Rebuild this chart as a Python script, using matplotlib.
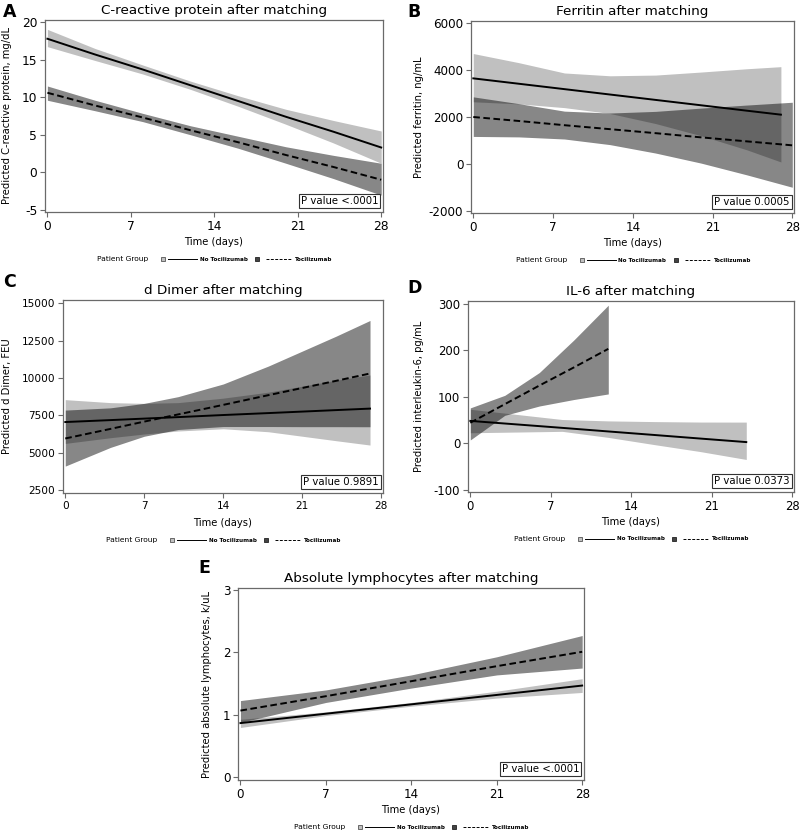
import numpy as np
import matplotlib.pyplot as plt

plt.rcParams['axes.unicode_minus'] = False

# A: C-reactive protein
crp_x = [0, 4, 8, 12, 16, 20, 24, 28]
crp_no = [17.8, 15.7, 13.7, 11.6, 9.5, 7.4, 5.4, 3.3]
crp_no_lo = [16.75, 14.9, 13.1, 11.05, 8.8, 6.4, 3.9, 1.2]
crp_no_hi = [19.05, 16.5, 14.3, 12.15, 10.2, 8.4, 6.9, 5.5]
crp_toc = [10.6, 8.9, 7.3, 5.6, 4.0, 2.3, 0.7, -1.0]
crp_toc_lo = [9.6, 8.2, 6.75, 5.0, 3.2, 1.2, -0.85, -3.05]
crp_toc_hi = [11.5, 9.6, 7.85, 6.2, 4.8, 3.4, 2.25, 1.2]

# B: ferritin
fer_x_no = [0, 4, 8, 12, 16, 20, 24, 27]
fer_no = [3650, 3420, 3190, 2960, 2730, 2500, 2270, 2100]
fer_no_lo = [2650, 2560, 2400, 2150, 1720, 1200, 600, 80]
fer_no_hi = [4710, 4320, 3880, 3760, 3790, 3920, 4060, 4150]
fer_x_toc = [0, 4, 8, 12, 16, 20, 24, 28]
fer_toc = [2000, 1830, 1650, 1480, 1310, 1130, 960, 790]
fer_toc_lo = [1170, 1150, 1060, 820, 460, 30, -470, -1000]
fer_toc_hi = [2860, 2570, 2250, 2170, 2240, 2380, 2510, 2630]

# C: d Dimer
dd_x = [0, 4, 7, 10, 14, 18, 21, 24, 27]
dd_no = [7050, 7180, 7280, 7380, 7520, 7650, 7750, 7850, 7950]
dd_no_lo = [5620, 6000, 6250, 6450, 6600, 6400, 6100, 5800, 5510]
dd_no_hi = [8550, 8350, 8300, 8350, 8650, 9050, 9450, 9850, 10200]
dd_toc = [5950, 6590, 7080, 7560, 8200, 8850, 9330, 9810, 10300]
dd_toc_lo = [4100, 5350, 6100, 6550, 6750, 6750, 6740, 6740, 6735]
dd_toc_hi = [7850, 8000, 8300, 8750, 9600, 10800, 11800, 12800, 13850]

# D: IL-6
il_x_no = [0, 4, 8, 12, 16, 20, 24]
il_no = [48, 40.5, 33, 25.3, 17.7, 10, 2.4]
il_no_lo = [22.5, 24, 25.5, 12.5, -3, -18, -35]
il_no_hi = [73, 62, 51, 48, 46.5, 45.5, 45.4]
il_x_toc = [0, 3, 6, 9, 12]
il_toc = [44, 84, 124, 163, 203]
il_toc_lo = [7, 60, 80, 94, 106]
il_toc_hi = [76, 103, 152, 222, 297]

# E: absolute lymphocytes
ly_x = [0, 7, 14, 21, 28]
ly_no = [0.87, 1.02, 1.17, 1.32, 1.47]
ly_no_lo = [0.80, 0.99, 1.14, 1.27, 1.36]
ly_no_hi = [0.93, 1.05, 1.20, 1.38, 1.58]
ly_toc = [1.07, 1.30, 1.54, 1.78, 2.01]
ly_toc_lo = [0.88, 1.20, 1.43, 1.64, 1.75]
ly_toc_hi = [1.23, 1.40, 1.64, 1.93, 2.27]

day_ticks = [0, 7, 14, 21, 28]

LIGHT = '#c0c0c0'
FRAME = '#6a6a6a'
DASH = (0, (3.4, 1.8))

W, H = 800, 833
fig = plt.figure(figsize=(8, 8.33), dpi=100)


def px_axes(left, top, right, bottom):
    return fig.add_axes([left / W, 1 - bottom / H, (right - left) / W, (bottom - top) / H])


def legend_row(ax, width_px):
    # SAS style group legend drawn under the axis, centred on it
    y = -0.245
    f = lambda dx: 0.5 + dx / width_px
    kw = dict(transform=ax.transAxes, clip_on=False)
    ax.text(f(-117), y, 'Patient Group', ha='left', va='center', fontsize=5.4, **kw)
    ax.plot([f(-51)], [y], marker='s', ms=3.2, mfc=LIGHT, mec='#555555', mew=0.6, **kw)
    ax.plot([f(-46), f(-17)], [y, y], color='black', lw=0.7, **kw)
    ax.text(f(-14), y, 'No Tocilizumab', ha='left', va='center', fontsize=4.1,
            fontweight='bold', **kw)
    ax.plot([f(43)], [y], marker='s', ms=3.2, mfc='#444444', mec='#222222', mew=0.6, **kw)
    ax.plot([f(52), f(77)], [y, y], color='black', lw=0.7, ls=(0, (3, 1.5)), **kw)
    ax.text(f(81), y, 'Tocilizumab', ha='left', va='center', fontsize=4.1,
            fontweight='bold', **kw)


def draw_panel(ax, x_no, no, no_lo, no_hi, x_toc, toc, toc_lo, toc_hi,
               title, ylabel, yticks, ylim, pval, ylab_x, tick_size, width_px):
    ax.fill_between(x_no, no_lo, no_hi, color=LIGHT, lw=0)
    ax.fill_between(x_toc, toc_lo, toc_hi, color='black', alpha=0.47, lw=0)
    ax.plot(x_no, no, color='black', lw=1.4)
    ax.plot(x_toc, toc, color='black', lw=1.4, ls=DASH)

    ax.set_xlim(-0.2, 28.15)
    ax.set_ylim(*ylim)
    ax.set_xticks(day_ticks)
    ax.set_yticks(yticks)
    ax.tick_params(direction='out', length=3.5, width=0.8, color=FRAME,
                   labelsize=tick_size, pad=2)
    for s in ax.spines.values():
        s.set_color(FRAME)
        s.set_linewidth(0.9)

    ax.set_title(title, fontsize=9.7, pad=4)
    ax.set_ylabel(ylabel, fontsize=7.2)
    ax.yaxis.set_label_coords(ylab_x, 0.5)
    ax.set_xlabel('Time (days)', fontsize=7.2)
    ax.xaxis.set_label_coords(0.5, -0.13)

    ax.text(0.987, 0.03, 'P value ' + pval, transform=ax.transAxes,
            ha='right', va='bottom', fontsize=7.3,
            bbox=dict(boxstyle='square,pad=0.18', fc='white', ec='#333333', lw=0.8))

    legend_row(ax, width_px)


axA = px_axes(45, 20, 383, 212)
draw_panel(axA, crp_x, crp_no, crp_no_lo, crp_no_hi, crp_x, crp_toc, crp_toc_lo, crp_toc_hi,
           'C-reactive protein after matching', 'Predicted C-reactive protein, mg/dL',
           [-5, 0, 5, 10, 15, 20], (-5.3, 20.3), '<.0001', -0.098, 8.8, 338)

axB = px_axes(471, 21, 794, 213)
draw_panel(axB, fer_x_no, fer_no, fer_no_lo, fer_no_hi, fer_x_toc, fer_toc, fer_toc_lo, fer_toc_hi,
           'Ferritin after matching', 'Predicted ferritin, ng/mL',
           [-2000, 0, 2000, 4000, 6000], (-2100, 6100), '0.0005', -0.146, 8.6, 323)

axC = px_axes(63, 300, 383, 493)
draw_panel(axC, dd_x, dd_no, dd_no_lo, dd_no_hi, dd_x, dd_toc, dd_toc_lo, dd_toc_hi,
           'd Dimer after matching', 'Predicted d Dimer, FEU',
           [2500, 5000, 7500, 10000, 12500, 15000], (2300, 15220), '0.9891', -0.159, 7.6, 320)

axD = px_axes(468, 301, 794, 492)
draw_panel(axD, il_x_no, il_no, il_no_lo, il_no_hi, il_x_toc, il_toc, il_toc_lo, il_toc_hi,
           'IL-6 after matching', 'Predicted interleukin-6, pg/mL',
           [-100, 0, 100, 200, 300], (-105, 306), '0.0373', -0.135, 8.4, 326)

axE = px_axes(238, 588, 584, 780)
draw_panel(axE, ly_x, ly_no, ly_no_lo, ly_no_hi, ly_x, ly_toc, ly_toc_lo, ly_toc_hi,
           'Absolute lymphocytes after matching', 'Predicted absolute lymphocytes, k/uL',
           [0, 1, 2, 3], (-0.04, 3.03), '<.0001', -0.075, 8.6, 346)

# panel letters
for letter, x, y in [('A', 3, 17), ('B', 407, 17), ('C', 3, 287), ('D', 407, 293), ('E', 198, 573)]:
    fig.text(x / W, 1 - y / H, letter, fontsize=12.5, fontweight='bold', va='baseline')

fig.savefig('out.png', dpi=100)
